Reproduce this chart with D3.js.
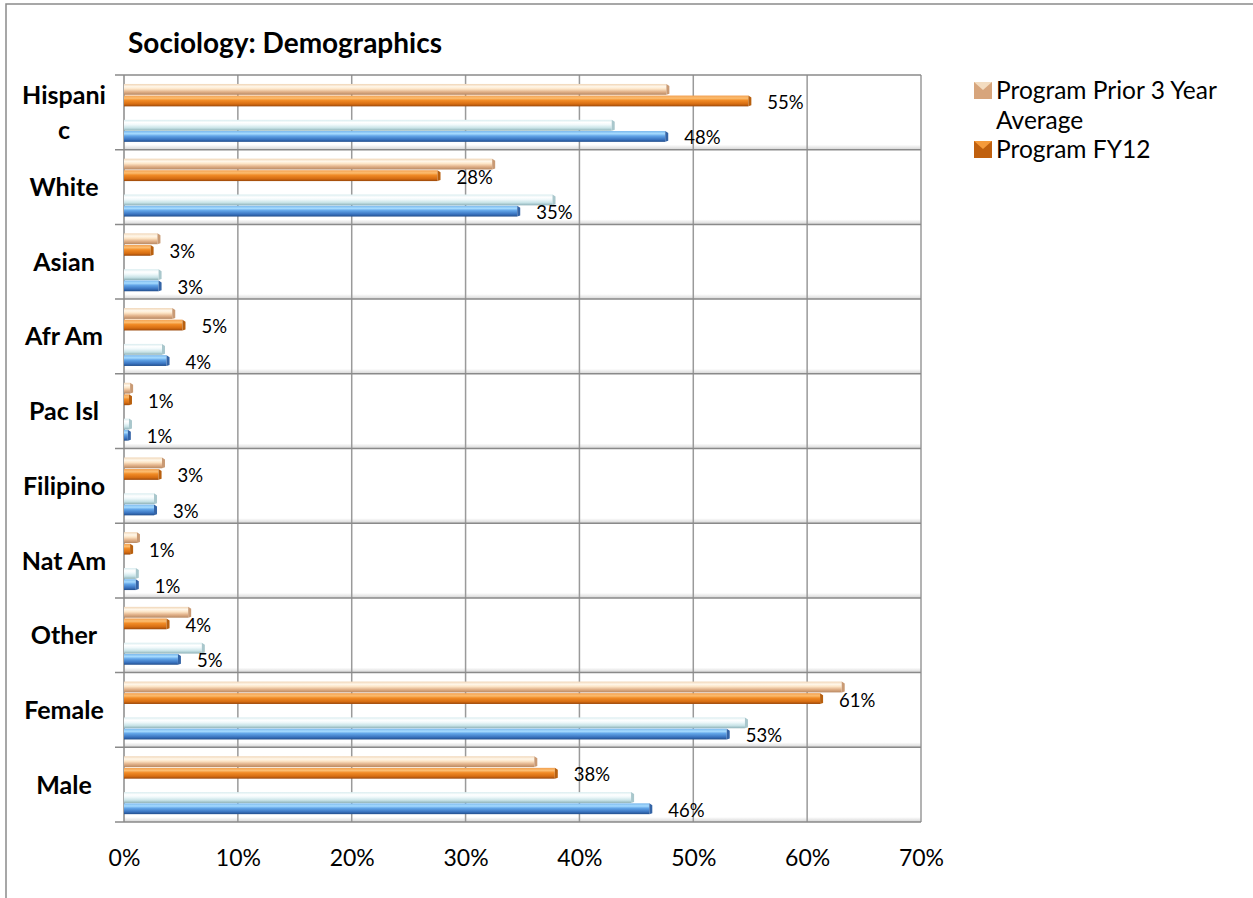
<!DOCTYPE html>
<html><head><meta charset="utf-8">
<script src="https://cdn.jsdelivr.net/npm/d3@7/dist/d3.min.js"></script>
<style>
html,body{margin:0;padding:0;background:#fff;}
svg{display:block;}
text{font-family:Lato,"Open Sans",sans-serif;fill:#000;}
</style>
</head><body>
<svg id="chart" width="1253" height="898"></svg>
<script>
// ---------------- data ----------------
const chartTitle = "Sociology: Demographics";
const categories = ["Hispanic","White","Asian","Afr Am","Pac Isl","Filipino","Nat Am","Other","Female","Male"];
const seriesNames = ["Program Prior 3 Year Average","Program FY12","College Prior 3 Year Average","College FY12"];
const programPrior = [47.9,32.6,3.2,4.5,0.8,3.6,1.4,5.9,63.3,36.3];
const programFY12  = [55.1,27.8,2.6,5.4,0.7,3.3,0.8,4.0,61.4,38.1];
const collegePrior = [43.1,37.9,3.3,3.6,0.7,2.9,1.3,7.1,54.8,44.8];
const collegeFY12  = [47.8,34.8,3.3,4.0,0.6,2.9,1.3,5.0,53.2,46.4];
const xTicks = [0,10,20,30,40,50,60,70];
const legendSeries = [0,1]; // legend only shows the program series (rest cut off)
const labelledSeries = [1,3];

// ---------------- layout ----------------
const svg = d3.select("#chart");
const P = {left:124, right:921, top:75, bottom:822};
const x = d3.scaleLinear().domain([0,70]).range([P.left,P.right]);
const y = d3.scaleBand().domain(categories).range([P.top,P.bottom]);
const bw = y.bandwidth();
const subOffset = d3.scaleOrdinal().domain([0,1,2,3]).range([0.12,0.275,0.60,0.75]);
const barH = bw*0.145;

const allSeries = [programPrior, programFY12, collegePrior, collegeFY12];

const grads = [
  {id:"gPeach", stops:[[0,"#f0d5b6"],[0.25,"#fff7ea"],[0.45,"#fde6c8"],[0.72,"#e2b28a"],[1,"#b88862"]], cap:"#c99a74"},
  {id:"gOrange", stops:[[0,"#f2a050"],[0.25,"#fcbd70"],[0.45,"#f18b26"],[0.78,"#d66d12"],[1,"#9a480b"]], cap:"#b8600f"},
  {id:"gLBlue", stops:[[0,"#d8ecef"],[0.25,"#ffffff"],[0.45,"#f0f9fb"],[0.75,"#c8e3e7"],[1,"#8db1b7"]], cap:"#a9c7cc"},
  {id:"gBlue", stops:[[0,"#79b7ec"],[0.25,"#a6dbff"],[0.45,"#62a5e8"],[0.78,"#3a74c0"],[1,"#224e8c"]], cap:"#3464a6"}
];
const defs = svg.append("defs");
grads.forEach(g=>{
  const lg = defs.append("linearGradient").attr("id",g.id).attr("x1",0).attr("y1",0).attr("x2",0).attr("y2",1);
  g.stops.forEach(s=>lg.append("stop").attr("offset",s[0]).attr("stop-color",s[1]));
});
const fl = defs.append("linearGradient").attr("id","gFloor").attr("x1",0).attr("y1",0).attr("x2",0).attr("y2",1);
fl.append("stop").attr("offset",0).attr("stop-color","#ffffff");
fl.append("stop").attr("offset",1).attr("stop-color","#d4d4d4");

// outer frame
svg.append("rect").attr("x",6).attr("y",4).attr("width",1300).attr("height",1000)
  .attr("fill","#fff").attr("stroke","#8a8a8a").attr("stroke-width",1.5);

// title
svg.append("text").attr("x",128).attr("y",53).attr("font-size",28).attr("font-weight","bold").text(chartTitle);

// floor strips above each horizontal boundary
const boundaries = categories.map(c=>y(c)).concat([P.bottom]);
svg.append("g").selectAll("rect").data(boundaries.slice(1)).join("rect")
  .attr("x",P.left).attr("y",d=>d-5).attr("width",P.right-P.left).attr("height",5)
  .attr("fill","url(#gFloor)");

// vertical gridlines
svg.append("g").selectAll("line").data(xTicks).join("line")
  .attr("x1",d=>x(d)).attr("x2",d=>x(d)).attr("y1",P.top).attr("y2",P.bottom)
  .attr("stroke",(d,i)=>i===0?"#8a8a8a":"#9a9a9a").attr("stroke-width",1.5);
// horizontal gridlines / category ticks
svg.append("g").selectAll("line").data(boundaries).join("line")
  .attr("x1",P.left-9).attr("x2",P.right).attr("y1",d=>d).attr("y2",d=>d)
  .attr("stroke","#8a8a8a").attr("stroke-width",1.5);

// bars
allSeries.forEach((vals,si)=>{
  const g = svg.append("g");
  const data = vals.map((v,i)=>({v, c:categories[i]}));
  g.selectAll("rect").data(data).join("rect")
    .attr("x",P.left).attr("y",d=>y(d.c)+bw*subOffset(si))
    .attr("width",d=>Math.max(0,x(d.v)-P.left-3)).attr("height",barH)
    .attr("fill",`url(#${grads[si].id})`);
  g.selectAll("path").data(data).join("path")
    .attr("d",d=>{
      const x1=x(d.v), y0=y(d.c)+bw*subOffset(si);
      return `M${x1-3},${y0}L${x1},${y0+2}L${x1},${y0+barH-1}L${x1-3},${y0+barH}Z`;
    })
    .attr("fill",grads[si].cap);
});

// data labels
const fmt = d3.format(".0f");
labelledSeries.forEach(si=>{
  svg.append("g").selectAll("text").data(allSeries[si].map((v,i)=>({v,c:categories[i]}))).join("text")
    .attr("x",d=>x(d.v)+16)
    .attr("y",d=>y(d.c)+bw*subOffset(si)+barH/2+8)
    .attr("font-size",18.5)
    .text(d=>fmt(d.v)+"%");
});

// x axis tick labels
const xAxis = d3.axisBottom(x).tickValues(xTicks).tickFormat(d=>d+"%").tickSize(0).tickPadding(28);
const ax = svg.append("g").attr("transform",`translate(0,${P.bottom})`).call(xAxis);
ax.select(".domain").remove();
ax.selectAll("text").attr("font-size",23).attr("font-family","Lato,sans-serif").attr("fill","#000");

// category labels (wrapped like the original)
const catG = svg.append("g");
categories.forEach(c=>{
  const cy = y(c)+bw/2;
  const t = catG.append("text").attr("x",64).attr("text-anchor","middle")
    .attr("font-size",25).attr("font-weight","bold");
  t.text(c);
  const maxW = 95;
  let lines=[c];
  if (t.node().getComputedTextLength()>maxW){
    let cut=c.length-1;
    while(cut>1){ t.text(c.slice(0,cut)); if(t.node().getComputedTextLength()<=maxW) break; cut--; }
    lines=[c.slice(0,cut), c.slice(cut)];
  }
  t.text(null);
  const lh = 35;
  const y0 = cy - (lines.length-1)*lh/2 + 9;
  lines.forEach((ln,i)=>t.append("tspan").attr("x",64).attr("y",y0+i*lh).text(ln));
});

// legend
const lg = svg.append("g");
const legTop = [99,158];
const legColors = [["#f3dcc0","#d7a57c"],["#f59a3a","#c0600e"]];
legendSeries.forEach((si,k)=>{
  const by = legTop[k];
  lg.append("rect").attr("x",974).attr("y",by-17).attr("width",18).attr("height",17)
    .attr("fill",legColors[k][1]);
  lg.append("path").attr("d",`M${974},${by-17}L${992},${by-17}L${983},${by-9}Z`).attr("fill",legColors[k][0]);
  const t = lg.append("text").attr("x",996).attr("y",by).attr("font-size",24.5);
  const words = seriesNames[si].split(" ");
  let line=[], lines=[];
  words.forEach(w=>{
    t.text(line.concat([w]).join(" "));
    if (t.node().getComputedTextLength()>240 && line.length){ lines.push(line.join(" ")); line=[w]; }
    else line.push(w);
  });
  lines.push(line.join(" "));
  t.text(null);
  lines.forEach((ln,i)=>t.append("tspan").attr("x",996).attr("y",by+i*30).text(ln));
});
</script>
</body></html>
